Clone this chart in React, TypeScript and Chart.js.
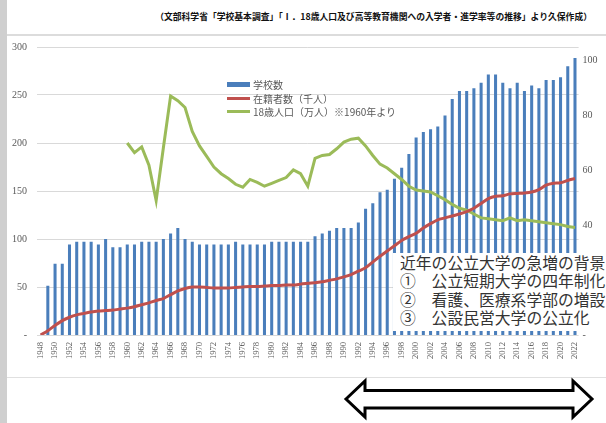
import React, { useEffect, useRef } from "react";
import { Chart, registerables } from "chart.js";

Chart.register(...registerables);

const years: string[] = [
  "1948","1949","1950","1951","1952","1953","1954","1955","1956","1957",
  "1958","1959","1960","1961","1962","1963","1964","1965","1966","1967",
  "1968","1969","1970","1971","1972","1973","1974","1975","1976","1977",
  "1978","1979","1980","1981","1982","1983","1984","1985","1986","1987",
  "1988","1989","1990","1991","1992","1993","1994","1995","1996","1997",
  "1998","1999","2000","2001","2002","2003","2004","2005","2006","2007",
  "2008","2009","2010","2011","2012","2013","2014","2015","2016","2017",
  "2018","2019","2020","2021","2022",
];

// 学校数 (right axis)
const schools: (number | null)[] = [
  null, 18, 26, 26, 33, 34, 34, 34, 33, 35,
  32, 32, 33, 33, 34, 34, 34, 35, 37, 39,
  35, 34, 33, 33, 33, 33, 33, 34, 33, 33,
  33, 33, 34, 34, 34, 34, 34, 34, 36, 37,
  38, 39, 39, 39, 41, 46, 48, 52, 53, 57,
  61, 66, 72, 74, 75, 76, 80, 86, 89, 89,
  90, 92, 95, 95, 92, 90, 92, 89, 91, 90,
  93, 93, 94, 98, 101,
];

// 在籍者数(千人) (left axis)
const students: number[] = [
  0, 4.5, 10, 15, 18.5, 21, 22.5, 24, 25, 25.5,
  26, 27, 28, 29.5, 31.5, 33.5, 36, 38, 42, 46,
  48.5, 50, 50, 49.5, 49, 49, 49, 49.5, 50, 50.5,
  50.5, 51, 51.5, 51.5, 52, 52, 53, 54, 54.5, 55.5,
  57, 58.5, 60.5, 63, 66.5, 70, 76, 82, 87.5, 93,
  98.5, 102.5, 106, 111.5, 116, 120, 122, 124, 126, 128.5,
  132, 137, 142, 144.5, 145, 147, 147.5, 148, 149, 151.5,
  156, 158, 158.5, 161, 163,
];

// 18歳人口(万人) from 1960 (left axis)
const population: (number | null)[] = [
  null, null, null, null, null, null, null, null, null, null,
  null, null, 200, 190, 196, 177, 140, 195, 249, 244,
  237, 212, 197, 186, 175, 168, 163, 157, 154, 162,
  159, 155, 158, 161, 164, 172, 168, 155, 184, 187,
  188, 194, 201, 204, 205, 197, 187, 178, 174, 168,
  162, 155, 151, 150, 149, 145, 141, 136, 132, 130,
  126, 122, 121, 120, 119, 122, 119, 120, 119, 118,
  117, 116, 115, 113, 112,
];

const leftTicks = { min: 0, max: 300, step: 50 };
const rightTicks = { min: 0, max: 105, step: 20 };

const titleText =
  "（文部科学省「学校基本調査」「Ⅰ．18歳人口及び高等教育機関への入学者・進学率等の推移」より久保作成）";
const legendItems = [
  { label: "学校数", color: "#4a7ebb", kind: "box" },
  { label: "在籍者数（千人）", color: "#c0504d", kind: "line" },
  { label: "18歳人口（万人）※1960年より", color: "#9bbb59", kind: "line" },
];
const noteLines = [
  "近年の公立大学の急増の背景",
  "①　公立短期大学の四年制化",
  "②　看護、医療系学部の増設",
  "③　公設民営大学の公立化",
];

const jp = "'Noto Sans CJK JP', 'Noto Sans', sans-serif";
const num = "'Liberation Serif', serif";

export default function App() {
  const ref = useRef<HTMLCanvasElement | null>(null);

  useEffect(() => {
    if (!ref.current) return;
    const chart = new Chart(ref.current, {
      type: "bar",
      data: {
        labels: years,
        datasets: [
          {
            type: "line",
            label: legendItems[1].label,
            data: students,
            yAxisID: "y",
            borderColor: "#c0504d",
            borderWidth: 3,
            pointRadius: 0,
            tension: 0.25,
            order: 0,
          } as any,
          {
            type: "line",
            label: legendItems[2].label,
            data: population,
            yAxisID: "y",
            borderColor: "#9bbb59",
            borderWidth: 3,
            pointRadius: 0,
            tension: 0,
            order: 0,
          } as any,
          {
            type: "bar",
            label: legendItems[0].label,
            data: schools,
            yAxisID: "y1",
            backgroundColor: "#4a7ebb",
            barPercentage: 0.42,
            categoryPercentage: 1,
            order: 1,
          } as any,
        ],
      },
      options: {
        animation: false,
        responsive: false,
        devicePixelRatio: 1,
        layout: { padding: { top: 47, left: 0, right: 0, bottom: 0 } },
        plugins: { legend: { display: false }, tooltip: { enabled: false } },
        scales: {
          x: {
            grid: { display: false, drawTicks: false },
            border: { display: false },
            ticks: {
              autoSkip: false,
              minRotation: 90,
              maxRotation: 90,
              padding: 7,
              color: "#595959",
              font: { family: num, size: 8.5 },
              callback: (_v: any, i: number) => (i % 2 === 0 ? years[i] : ""),
            },
            afterFit: (s: any) => {
              s.height = 88;
            },
          },
          y: {
            position: "left",
            min: leftTicks.min,
            max: leftTicks.max,
            grid: { color: "#d9d9d9", drawTicks: false },
            border: { display: false },
            ticks: {
              stepSize: leftTicks.step,
              padding: 10,
              color: "#595959",
              font: { family: num, size: 10 },
              callback: (v: any) => (v === 0 ? "-" : String(v)),
            },
            afterFit: (s: any) => {
              s.width = 37;
            },
          },
          y1: {
            position: "right",
            min: rightTicks.min,
            max: rightTicks.max,
            grid: { display: false, drawTicks: false },
            border: { display: false },
            afterBuildTicks: (s: any) => {
              s.ticks = s.ticks.filter((t: any) => t.value % rightTicks.step === 0);
            },
            ticks: {
              stepSize: rightTicks.step,
              padding: 4,
              color: "#595959",
              font: { family: num, size: 10 },
              callback: (v: any) => (v === 0 ? "-" : String(v)),
            },
            afterFit: (s: any) => {
              s.width = 27.4;
            },
          },
        },
      },
    });
    return () => chart.destroy();
  }, []);

  return (
    <div
      style={{
        position: "fixed",
        left: 0,
        top: 0,
        width: 606,
        height: 423,
        background: "#ffffff",
        overflow: "hidden",
      }}
    >
      <div style={{ position: "absolute", left: 0, top: 0, width: 7, height: 423, background: "#cfcfcf" }} />
      <div style={{ position: "absolute", left: 7, top: 34, width: 599, height: 2, background: "#dcdcdc" }} />
      <div style={{ position: "absolute", left: 7, top: 377, width: 599, height: 1, background: "#e0e0e0" }} />
      <div
        style={{
          position: "absolute",
          right: 14,
          top: 11,
          fontFamily: jp,
          fontWeight: 700,
          fontSize: 8.8,
          lineHeight: "12px",
          color: "#111",
          whiteSpace: "nowrap",
        }}
      >
        {titleText}
      </div>
      <canvas ref={ref} width={606} height={423} style={{ position: "absolute", left: 0, top: 0, width: 606, height: 423 }} />
      <div style={{ position: "absolute", left: 227, top: 78, fontFamily: jp, fontSize: 10, color: "#595959" }}>
        {legendItems.map((it, i) => (
          <div key={i} style={{ display: "flex", alignItems: "center", height: 13.5, whiteSpace: "nowrap" }}>
            <span
              style={{
                display: "inline-block",
                width: 23,
                height: it.kind === "box" ? 5 : 3,
                background: it.color,
                marginRight: 3,
              }}
            />
            <span style={{ lineHeight: "13.5px" }}>{it.label}</span>
          </div>
        ))}
      </div>
      <div
        style={{
          position: "absolute",
          left: 393,
          top: 253,
          width: 213,
          height: 78,
          background: "#ffffff",
          fontFamily: jp,
          fontSize: 15.8,
          lineHeight: "18.3px",
          color: "#333",
          paddingLeft: 7,
          paddingTop: 1,
          boxSizing: "border-box",
          whiteSpace: "nowrap",
          overflow: "hidden",
        }}
      >
        {noteLines.map((l, i) => (
          <div key={i}>{l}</div>
        ))}
      </div>
      <svg width={606} height={423} style={{ position: "absolute", left: 0, top: 0 }}>
        <polygon
          points="346,399 365,381 365,390.5 573,390.5 573,381 592,399 573,417 573,408 365,408 365,417"
          fill="#ffffff"
          stroke="#000000"
          strokeWidth={3}
          strokeLinejoin="miter"
        />
      </svg>
    </div>
  );
}
